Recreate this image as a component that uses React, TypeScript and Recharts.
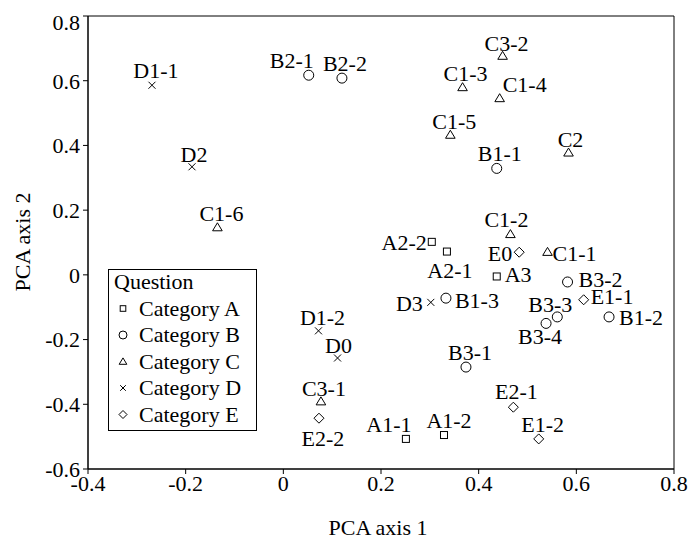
import React from 'react';
import { ScatterChart, Scatter, XAxis, YAxis, ReferenceArea, Legend } from 'recharts';

type Pt = { name: string; x: number; y: number };

const categoryA: Pt[] = [
  { name: 'A1-1', x: 0.251, y: -0.507 },
  { name: 'A1-2', x: 0.329, y: -0.495 },
  { name: 'A2-1', x: 0.335, y: 0.072 },
  { name: 'A2-2', x: 0.304, y: 0.102 },
  { name: 'A3', x: 0.437, y: -0.005 },
];

const categoryB: Pt[] = [
  { name: 'B1-1', x: 0.437, y: 0.329 },
  { name: 'B1-2', x: 0.667, y: -0.13 },
  { name: 'B1-3', x: 0.333, y: -0.072 },
  { name: 'B2-1', x: 0.052, y: 0.617 },
  { name: 'B2-2', x: 0.12, y: 0.608 },
  { name: 'B3-1', x: 0.374, y: -0.285 },
  { name: 'B3-2', x: 0.582, y: -0.022 },
  { name: 'B3-3', x: 0.561, y: -0.13 },
  { name: 'B3-4', x: 0.538, y: -0.15 },
];

const categoryC: Pt[] = [
  { name: 'C1-1', x: 0.541, y: 0.071 },
  { name: 'C1-2', x: 0.465, y: 0.126 },
  { name: 'C1-3', x: 0.367, y: 0.58 },
  { name: 'C1-4', x: 0.443, y: 0.546 },
  { name: 'C1-5', x: 0.342, y: 0.433 },
  { name: 'C1-6', x: -0.135, y: 0.147 },
  { name: 'C2', x: 0.584, y: 0.378 },
  { name: 'C3-1', x: 0.077, y: -0.391 },
  { name: 'C3-2', x: 0.449, y: 0.677 },
];

const categoryD: Pt[] = [
  { name: 'D0', x: 0.111, y: -0.257 },
  { name: 'D1-1', x: -0.269, y: 0.586 },
  { name: 'D1-2', x: 0.072, y: -0.173 },
  { name: 'D2', x: -0.187, y: 0.334 },
  { name: 'D3', x: 0.302, y: -0.085 },
];

const categoryE: Pt[] = [
  { name: 'E0', x: 0.483, y: 0.07 },
  { name: 'E1-1', x: 0.615, y: -0.077 },
  { name: 'E1-2', x: 0.523, y: -0.507 },
  { name: 'E2-1', x: 0.471, y: -0.409 },
  { name: 'E2-2', x: 0.073, y: -0.443 },
];

const xTicks = [-0.4, -0.2, 0, 0.2, 0.4, 0.6, 0.8];
const yTicks = [-0.6, -0.4, -0.2, 0, 0.2, 0.4, 0.6, 0.8];

// where each point's label sits: [anchor, dx, dy to baseline]
const labelLayout: Record<string, ['start' | 'middle' | 'end', number, number]> = {
  'A1-1': ['middle', -17, -7],
  'A1-2': ['middle', 5, -7],
  'A2-1': ['middle', 3, 26],
  'A2-2': ['end', -5, 8],
  A3: ['start', 8, 6],
  'B1-1': ['middle', 3, -7],
  'B1-2': ['start', 10, 8],
  'B1-3': ['start', 9, 10],
  'B2-1': ['middle', -17, -7],
  'B2-2': ['middle', 3, -7],
  'B3-1': ['middle', 4, -7],
  'B3-2': ['start', 11, 5],
  'B3-3': ['middle', -7, -5],
  'B3-4': ['middle', -6, 21],
  'C1-1': ['start', 5, 9],
  'C1-2': ['middle', -4, -7],
  'C1-3': ['middle', 3, -6],
  'C1-4': ['start', 3, -6],
  'C1-5': ['middle', 4, -6],
  'C1-6': ['middle', 4, -6],
  C2: ['middle', 2, -6],
  'C3-1': ['middle', 3, -5],
  'C3-2': ['middle', 4, -5],
  D0: ['middle', 1, -5],
  'D1-1': ['middle', 4, -7],
  'D1-2': ['middle', 4, -6],
  D2: ['middle', 2, -5],
  D3: ['end', -8, 9],
  E0: ['end', -7, 9],
  'E1-1': ['start', 7, 4],
  'E1-2': ['middle', 4, -7],
  'E2-1': ['middle', 3, -8],
  'E2-2': ['middle', 4, 28],
};

const FONT = '"Liberation Serif", "Times New Roman", serif';
const FS = 22;

type Sym = 'square' | 'circle' | 'triangle' | 'cross' | 'diamond';

function Marker({ sym, cx, cy, s = 1 }: { sym: Sym; cx: number; cy: number; s?: number }) {
  const p = { fill: 'none', stroke: '#000', strokeWidth: 1 };
  if (sym === 'square') return <rect x={cx - 3.5 * s} y={cy - 3.5 * s} width={7 * s} height={7 * s} {...p} />;
  if (sym === 'circle') return <circle cx={cx} cy={cy} r={5 * s} {...p} />;
  if (sym === 'triangle')
    return (
      <polygon
        points={`${cx},${cy - 4.5 * s} ${cx - 4.8 * s},${cy + 3.5 * s} ${cx + 4.8 * s},${cy + 3.5 * s}`}
        {...p}
      />
    );
  if (sym === 'cross')
    return (
      <path
        d={`M${cx - 3.5 * s},${cy - 3.5 * s}L${cx + 3.5 * s},${cy + 3.5 * s}M${cx - 3.5 * s},${cy + 3.5 * s}L${cx + 3.5 * s},${cy - 3.5 * s}`}
        {...p}
      />
    );
  return (
    <polygon
      points={`${cx},${cy - 5 * s} ${cx + 5 * s},${cy} ${cx},${cy + 5 * s} ${cx - 5 * s},${cy}`}
      {...p}
    />
  );
}

const makeShape = (sym: Sym) => (props: any) => {
  const { cx, cy, payload } = props;
  const [anchor, dx, dy] = labelLayout[payload.name] || ['middle', 0, -7];
  return (
    <g>
      <Marker sym={sym} cx={cx} cy={cy} />
      <text x={cx + dx} y={cy + dy} textAnchor={anchor} fontFamily={FONT} fontSize={FS} fill="#000">
        {payload.name}
      </text>
    </g>
  );
};

const categories: { name: string; sym: Sym; data: Pt[] }[] = [
  { name: 'Category A', sym: 'square', data: categoryA },
  { name: 'Category B', sym: 'circle', data: categoryB },
  { name: 'Category C', sym: 'triangle', data: categoryC },
  { name: 'Category D', sym: 'cross', data: categoryD },
  { name: 'Category E', sym: 'diamond', data: categoryE },
];

const fmt = (v: number) => String(v);

function YTick({ x, y, payload }: any) {
  // the top label sits a bit lower than its tick
  const shift = payload.value === 0.8 ? 6 : 0;
  return (
    <text x={x} y={y + shift} dy="0.355em" textAnchor="end" fontFamily={FONT} fontSize={FS} fill="#000">
      {fmt(payload.value)}
    </text>
  );
}

function QuestionLegend() {
  return (
    <svg width={150} height={163}>
      <rect x={0.5} y={0.5} width={148} height={161} fill="#fff" stroke="#000" />
      <text x={6} y={20} fontFamily={FONT} fontSize={FS} fill="#000">
        Question
      </text>
      {categories.map((c, i) => {
        const base = 46.5 + i * 26.5;
        return (
          <g key={c.name}>
            <Marker sym={c.sym} cx={15} cy={base - 7} s={0.8} />
            <text x={31} y={base} fontFamily={FONT} fontSize={FS} fill="#000">
              {c.name}
            </text>
          </g>
        );
      })}
    </svg>
  );
}

export default function App() {
  return (
    <div style={{ position: 'absolute', left: 0, top: 0 }}>
      <ScatterChart width={691} height={540} margin={{ top: 16, right: 17, bottom: 0, left: 0 }}>
        <XAxis
          type="number"
          dataKey="x"
          domain={[-0.4, 0.8]}
          ticks={xTicks}
          tickFormatter={fmt}
          height={71}
          stroke="#000"
          tickSize={5}
          tickMargin={1}
          tick={{ fill: '#000', fontFamily: FONT, fontSize: FS }}
          label={{
            value: 'PCA axis 1',
            position: 'insideBottom',
            offset: 5,
            dx: -3,
            fill: '#000',
            fontFamily: FONT,
            fontSize: FS,
          }}
        />
        <YAxis
          type="number"
          dataKey="y"
          domain={[-0.6, 0.8]}
          ticks={yTicks}
          width={88}
          stroke="#000"
          tickSize={5}
          tickMargin={3}
          tick={<YTick />}
          label={{
            content: () => (
              <text
                transform="translate(30,242) rotate(-90)"
                textAnchor="middle"
                fontFamily={FONT}
                fontSize={FS}
                fill="#000"
              >
                PCA axis 2
              </text>
            ),
          }}
        />
        <ReferenceArea x1={-0.4} x2={0.8} y1={-0.6} y2={0.8} fill="none" fillOpacity={0} stroke="#000" strokeOpacity={1} />
        {categories.map((c) => (
          <Scatter
            key={c.name}
            name={c.name}
            data={c.data}
            shape={makeShape(c.sym)}
            isAnimationActive={false}
          />
        ))}
        <Legend
          layout="horizontal"
          align="center"
          verticalAlign="middle"
          content={() => <QuestionLegend />}
          wrapperStyle={{ position: 'absolute', left: 108, top: 269, width: 150, height: 163, margin: 0, padding: 0 }}
        />
      </ScatterChart>
    </div>
  );
}
